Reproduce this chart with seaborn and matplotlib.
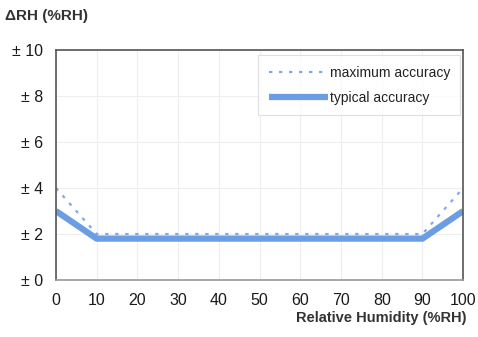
import matplotlib
matplotlib.use("Agg")
import matplotlib.pyplot as plt
import seaborn as sns
import pandas as pd

humidity = [0, 10, 90, 100]
maximum_accuracy = [4.0, 2.0, 2.0, 4.0]
typical_accuracy = [3.0, 1.8, 1.8, 3.0]
x_ticks = [0, 10, 20, 30, 40, 50, 60, 70, 80, 90, 100]
y_ticks = [0, 2, 4, 6, 8, 10]
y_tick_labels = ["± 0", "± 2", "± 4", "± 6", "± 8", "± 10"]

df = pd.DataFrame({
    "rh": humidity * 2,
    "acc": maximum_accuracy + typical_accuracy,
    "series": ["maximum accuracy"] * 4 + ["typical accuracy"] * 4,
})

sns.set_style("white")
plt.rcParams["font.family"] = ["Liberation Sans", "DejaVu Sans"]

fig = plt.figure(figsize=(4.78, 3.37), dpi=100)
ax = fig.add_axes([0.117, 0.169, 0.852, 0.683])

blue = "#6b9de3"
sns.lineplot(data=df[df.series == "maximum accuracy"], x="rh", y="acc", ax=ax,
             color="#7ea9f0", linewidth=1.6, linestyle=(0, (1.5, 3)),
             label="maximum accuracy")
sns.lineplot(data=df[df.series == "typical accuracy"], x="rh", y="acc", ax=ax,
             color=blue, linewidth=4.5, label="typical accuracy",
             solid_capstyle="butt")

ax.set_xlim(0, 100)
ax.set_ylim(0, 10)
ax.set_xticks(x_ticks)
ax.set_yticks(y_ticks)
ax.set_yticklabels(y_tick_labels)
ax.grid(True, color="#eeeeee", linewidth=0.8)
ax.tick_params(axis="both", length=3, color="#999999", labelcolor="#1a1a1a",
               labelsize=11.5, pad=6)
for s in ax.spines.values():
    s.set_color("#555555")
    s.set_linewidth(1.2)
ax.spines["bottom"].set_color("#999999")

ax.set_xlabel("")
ax.set_ylabel("")
fig.text(0.975, 0.035, "Relative Humidity (%RH)", ha="right", va="bottom",
         fontsize=10.5, fontweight="bold", color="#333333")
fig.text(0.01, 0.952, "ΔRH (%RH)", ha="left", va="center",
         fontsize=11, fontweight="bold", color="#333333")

leg = ax.legend(loc="upper right", bbox_to_anchor=(1.0, 0.988), frameon=True,
                fontsize=10, handlelength=4.3, handletextpad=0.1,
                borderpad=0.75, labelspacing=0.8, borderaxespad=0.2,
                fancybox=False)
leg.get_frame().set_edgecolor("#d8d8d8")
leg.get_frame().set_linewidth(0.8)
for t in leg.get_texts():
    t.set_color("#222222")

fig.savefig("out.png", dpi=100)
